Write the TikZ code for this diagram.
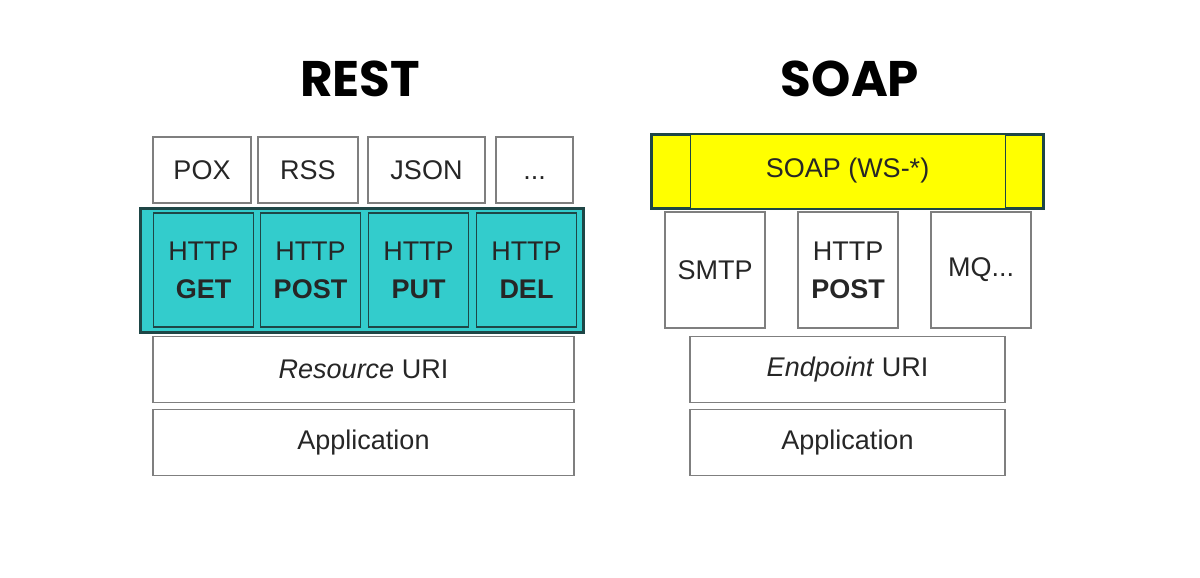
\documentclass[tikz,border=0pt]{standalone}
\usepackage{fontspec}
\setmainfont{Liberation Sans}
\newfontfamily\titlefont{Poppins}
\usetikzlibrary{positioning}
\definecolor{boxgray}{HTML}{7F7F7F}
\definecolor{restteal}{HTML}{33CCCC}
\definecolor{tealedge}{HTML}{1E4646}
\definecolor{soapyellow}{HTML}{FFFF00}
\definecolor{inkgray}{HTML}{262626}

\begin{document}
\begin{tikzpicture}[x=1pt,y=-1pt,
  box/.style = {draw=boxgray, line width=1.6pt, fill=white, text=inkgray, inner sep=0pt, align=center, font=\fontsize{27}{38}\selectfont},
  fmt/.style = {box, minimum height=66pt},
  verb/.style = {box, draw=tealedge, fill=restteal, line width=1.4pt, minimum width=100pt, minimum height=114pt},
  carrier/.style = {box, minimum width=100pt, minimum height=116pt},
  layer/.style = {box, minimum height=66pt},
  title/.style = {font=\titlefont\bfseries\fontsize{50}{50}\selectfont, text=black}]
\useasboundingbox (0,0) rectangle (1200,578);

% titles
\node[title] (resttitle) at (360,79) {REST};
\node[title] (soaptitle) at (850,79) {SOAP};

% REST stack
\node[fmt, minimum width=98pt] (pox) at (202,170) {POX};
\node[fmt, minimum width=100pt] (rss) [right=5.4pt of pox] {RSS};
\node[fmt, minimum width=117pt] (json) [right=8.4pt of rss] {JSON};
\node[fmt, minimum width=77pt] (more) [right=9.4pt of json] {\vphantom{POX}...};
\node[box, draw=tealedge, fill=restteal, line width=3pt, minimum width=443pt, minimum height=124pt] (band) at (361.5,270) {};
\node[verb] (get) at (203.5,270) {HTTP\\\textbf{GET}};
\node[verb] (post) [right=5.6pt of get] {HTTP\\\textbf{POST}};
\node[verb] (put) [right=6.6pt of post] {HTTP\\\textbf{PUT}};
\node[verb] (del) [right=6.6pt of put] {HTTP\\\textbf{DEL}};
\node[layer, minimum width=421pt] (resuri) at (363.5,369.5) {\textit{Resource} URI};
\node[layer, minimum width=421pt] (restapp) [below=5.4pt of resuri] {Application};

% SOAP stack
\node[box, draw=tealedge, fill=soapyellow, line width=3pt, minimum width=392pt, minimum height=74pt] (wsband) at (847,171) {};
\node[box, draw=tealedge, fill=soapyellow, line width=1pt, minimum width=315pt, minimum height=74pt] (ws) at (847.5,171) {SOAP (WS-*)};
\node[carrier] (smtp) at (715,270) {SMTP};
\node[carrier] (spost) [right=31.4pt of smtp] {HTTP\\\textbf{POST}};
\node[carrier] (mq) [right=31.4pt of spost] {MQ...};
\node[layer, minimum width=315pt] (epuri) at (847.5,369.5) {\textit{Endpoint} URI};
\node[layer, minimum width=315pt] (soapapp) [below=5.4pt of epuri] {Application};
\end{tikzpicture}
\end{document}
